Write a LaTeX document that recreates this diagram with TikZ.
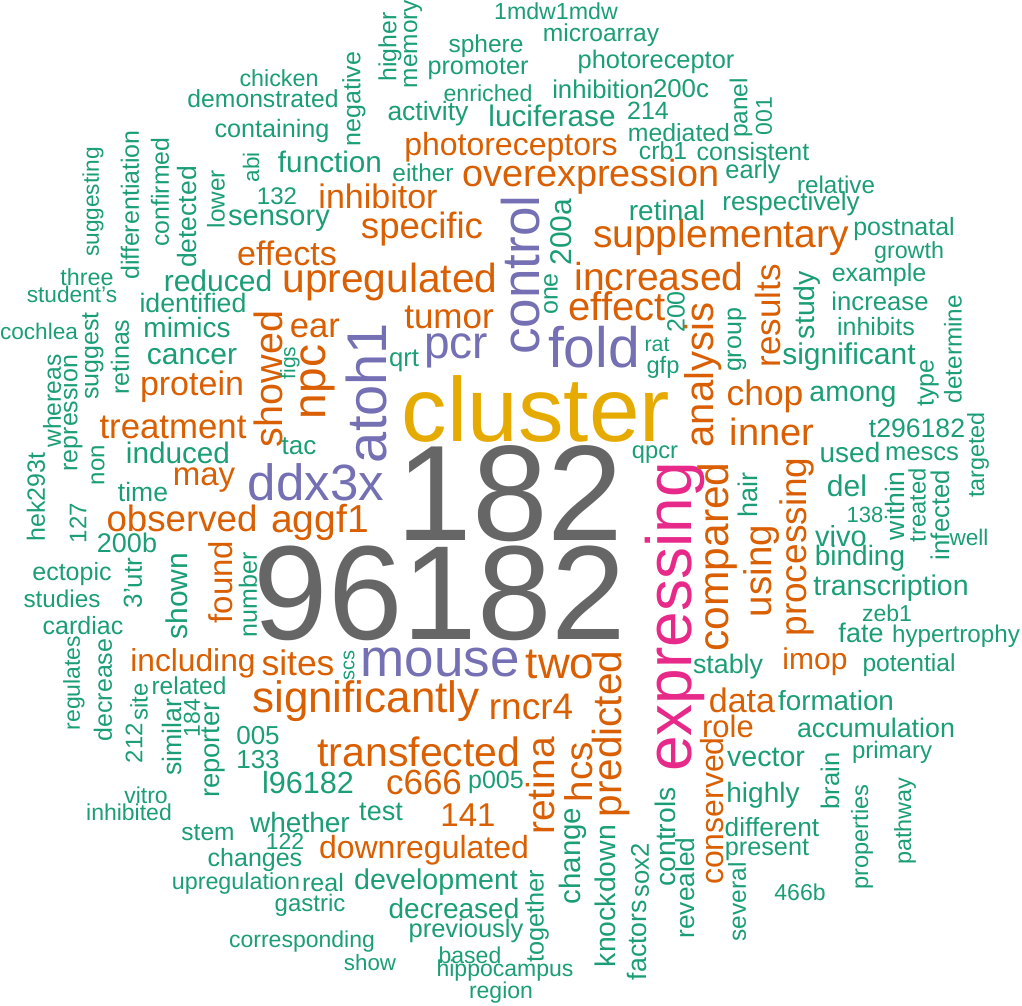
\documentclass[tikz,border=0pt]{standalone}
\usepackage{fontspec}
\setmainfont{Liberation Sans}
\usepackage{tikz}
\definecolor{cus-green}{RGB}{27,158,119}
\definecolor{cus-orange}{RGB}{217,95,2}
\definecolor{cus-purple}{RGB}{117,112,179}
\definecolor{cus-pink}{RGB}{231,41,138}
\definecolor{cus-gold}{RGB}{230,171,2}
\definecolor{cus-gray}{RGB}{102,102,102}
\tikzset{
	w/.style = {inner sep=0pt, anchor=center, font=\fontsize{#1}{#1}\selectfont},
	up/.style = {rotate=90}
}
\begin{document}
\begin{tikzpicture}[x=1pt, y=-1pt]
\useasboundingbox (0,0) rectangle (1022,1005);
% biggest words
\node [cus-gray, w=134] (w96182) at (440,593) {96182};
\node [cus-gray, w=136] (w182) at (510,494) {182};
\node [cus-gold, w=91] (cluster) at (536,409) {cluster};
\node [cus-pink, w=64, up] (expressing) at (675,617) {expressing};
% purple
\node [cus-purple, w=56, up] (atoh1) at (366,393) {atoh1};
\node [cus-purple, w=51] (ddx3x) at (316,482) {ddx3x};
\node [cus-purple, w=46] (pcr) at (456,351) {pcr};
\node [cus-purple, w=53, up] (control) at (521,275) {control};
\node [cus-purple, w=57] (fold) at (594,347) {fold};
\node [cus-purple, w=53] (mouse) at (440,662) {mouse};
% orange
\node [cus-orange, w=34] (effects) at (287,253) {effects};
\node [cus-orange, w=40.7] (upregulated) at (390,282) {upregulated};
\node [cus-orange, w=34] (inhibitor) at (378,196) {inhibitor};
\node [cus-orange, w=32] (photoreceptors) at (511,147) {photoreceptors};
\node [cus-orange, w=37.8] (overexpression) at (591,177) {overexpression};
\node [cus-orange, w=36.6] (specific) at (422,229) {specific};
\node [cus-orange, w=39] (supplementary) at (721,237) {supplementary};
\node [cus-orange, w=39] (increased) at (659,277) {increased};
\node [cus-orange, w=40] (effect) at (617,306) {effect};
\node [cus-orange, w=35] (tumor) at (449,317) {tumor};
\node [cus-orange, w=35, up] (results) at (768,316) {results};
\node [cus-orange, w=40, up] (analysis) at (703,375) {analysis};
\node [cus-orange, w=35.5] (chop) at (765,396) {chop};
\node [cus-orange, w=38] (inner) at (772,432) {inner};
\node [cus-orange, w=42.5, up] (compared) at (718,557) {compared};
\node [cus-orange, w=38.5, up] (using) at (762,571) {using};
\node [cus-orange, w=37, up] (processing) at (797,547) {processing};
\node [cus-orange, w=30] (imop) at (815,662) {imop};
\node [cus-orange, w=34] (data) at (742,700) {data};
\node [cus-orange, w=31] (role) at (728,726) {role};
\node [cus-orange, w=32, up] (conserved) at (712,811) {conserved};
\node [cus-orange, w=40.5, up] (predicted) at (611,734) {predicted};
\node [cus-orange, w=38.6, up] (hcs) at (579,772) {hcs};
\node [cus-orange, w=39, up] (retina) at (541,786) {retina};
\node [cus-orange, w=33] (n141) at (468,815) {141};
\node [cus-orange, w=32] (downregulated) at (424,850) {downregulated};
\node [cus-orange, w=35] (c666) at (424,782) {c666};
\node [cus-orange, w=37] (rncr4) at (531,707) {rncr4};
\node [cus-orange, w=41] (transfected) at (419,752) {transfected};
\node [cus-orange, w=44] (significantly) at (366,701) {significantly};
\node [cus-orange, w=44] (two) at (560,664) {two};
\node [cus-orange, w=35.5] (sites) at (298,663) {sites};
\node [cus-orange, w=31.7] (including) at (193,663) {including};
\node [cus-orange, w=33, up] (found) at (221,582) {found};
\node [cus-orange, w=36.7] (observed) at (182,518) {observed};
\node [cus-orange, w=39] (aggf1) at (320,522) {aggf1};
\node [cus-orange, w=33] (may) at (204,480) {may};
\node [cus-orange, w=34.8] (treatment) at (173,427) {treatment};
\node [cus-orange, w=34] (protein) at (192,387) {protein};
\node [cus-orange, w=39.5, up] (showed) at (268,379) {showed};
\node [cus-orange, w=46, up] (npc) at (318,382) {npc};
\node [cus-orange, w=34.6] (ear) at (315,328) {ear};
% green, top
\node [cus-green, w=23.2] (mdw) at (556,11) {1mdw1mdw};
\node [cus-green, w=24.6] (microarray) at (601,35) {microarray};
\node [cus-green, w=24.8, up] (higher) at (390,47) {higher};
\node [cus-green, w=24.4, up] (memory) at (413,44) {memory};
\node [cus-green, w=24.5] (sphere) at (486,46) {sphere};
\node [cus-green, w=25.2] (promoter) at (478,69) {promoter};
\node [cus-green, w=25.4] (photoreceptor) at (656,62) {photoreceptor};
\node [cus-green, w=25, up] (negative) at (354,99) {negative};
\node [cus-green, w=23.3] (chicken) at (279,78) {chicken};
\node [cus-green, w=24.7] (demonstrated) at (263,99) {demonstrated};
\node [cus-green, w=23.2] (enriched) at (488,93) {enriched};
\node [cus-green, w=25.7] (inhibition) at (603,89) {inhibition};
\node [cus-green, w=25.8] (n200c) at (681,89) {200c};
\node [cus-green, w=26.5] (activity) at (428,114) {activity};
\node [cus-green, w=29.7] (luciferase) at (552,116) {luciferase};
\node [cus-green, w=25] (n214) at (648,111) {214};
\node [cus-green, w=24.5, up] (panel) at (741,108) {panel};
\node [cus-green, w=23, up] (n001) at (764,116) {001};
\node [cus-green, w=24.8] (mediated) at (679,133) {mediated};
\node [cus-green, w=25.2] (containing) at (272,131) {containing};
\node [cus-green, w=24.7] (crb1) at (663,151) {crb1};
\node [cus-green, w=25] (consistent) at (753,152) {consistent};
\node [cus-green, w=29.7] (function) at (330,162) {function};
\node [cus-green, w=24.4] (either) at (423,173) {either};
\node [cus-green, w=25.4] (early) at (753,172) {early};
\node [cus-green, w=22.5, up] (abi) at (251,167) {abi};
\node [cus-green, w=22.7, up] (suggesting) at (93,202) {suggesting};
\node [cus-green, w=25, up] (differentiation) at (130,205) {differentiation};
\node [cus-green, w=24.8, up] (confirmed) at (160,192) {confirmed};
\node [cus-green, w=26.5, up] (detected) at (187,217) {detected};
\node [cus-green, w=24.3, up] (lower) at (216,199) {lower};
\node [cus-green, w=24] (n132) at (277,196) {132};
\node [cus-green, w=24.2] (relative) at (836,185) {relative};
\node [cus-green, w=26] (respectively) at (791,204) {respectively};
\node [cus-green, w=29] (sensory) at (279,221) {sensory};
\node [cus-green, w=28] (retinal) at (667,210) {retinal};
\node [cus-green, w=30, up] (n200a) at (561,232) {200a};
\node [cus-green, w=25] (postnatal) at (904,229) {postnatal};
\node [cus-green, w=23.3] (growth) at (909,252) {growth};
\node [cus-green, w=23.3] (three) at (87,277) {three};
\node [cus-green, w=22.7] (students) at (72,294) {student's};
\node [cus-green, w=30] (reduced) at (218,281) {reduced};
\node [cus-green, w=26.7] (identified) at (193,303) {identified};
\node [cus-green, w=25] (example) at (879,275) {example};
\node [cus-green, w=28.5, up] (study) at (807,305) {study};
\node [cus-green, w=25.7] (increase) at (880,301) {increase};
\node [cus-green, w=25, up] (group) at (737,340) {group};
\node [cus-green, w=25, up] (one) at (551,294) {one};
\node [cus-green, w=25, up] (n200) at (676,312) {200};
\node [cus-green, w=28] (mimics) at (187,327) {mimics};
\node [cus-green, w=22.6] (cochlea) at (39,331) {cochlea};
\node [cus-green, w=25] (inhibits) at (876,327) {inhibits};
% green, middle
\node [cus-green, w=25, up] (suggest) at (93,356) {suggest};
\node [cus-green, w=25, up] (retinas) at (120,357) {retinas};
\node [cus-green, w=24.3, up] (determine) at (953,349) {determine};
\node [cus-green, w=30] (significant) at (849,357) {significant};
\node [cus-green, w=21.4] (rat) at (657,345) {rat};
\node [cus-green, w=23.7] (gfp) at (663,367) {gfp};
\node [cus-green, w=30] (cancer) at (192,357) {cancer};
\node [cus-green, w=25.7] (qrt) at (404,361) {qrt};
\node [cus-green, w=21, up] (figs) at (290,363) {figs};
\node [cus-green, w=28.5] (among) at (853,397) {among};
\node [cus-green, w=25, up] (type) at (928,383) {type};
\node [cus-green, w=24.6, up] (whereas) at (52,401) {whereas};
\node [cus-green, w=25, up] (repression) at (71,413) {repression};
\node [cus-green, w=26] (tac) at (299,446) {tac};
\node [cus-green, w=26.6] (t296182) at (917,428) {t296182};
\node [cus-green, w=29.7] (induced) at (178,453) {induced};
\node [cus-green, w=23.4, up] (targeted) at (978,455) {targeted};
\node [cus-green, w=28] (used) at (850,452) {used};
\node [cus-green, w=25.6] (mescs) at (922,454) {mescs};
\node [cus-green, w=24, up] (non) at (98,465) {non};
\node [cus-green, w=23.7] (qpcr) at (655,455) {qpcr};
\node [cus-green, w=30] (del) at (847,486) {del};
\node [cus-green, w=26.5] (time) at (143,492) {time};
\node [cus-green, w=25, up] (hek293t) at (36,497) {hek293t};
\node [cus-green, w=26.6, up] (within) at (895,506) {within};
\node [cus-green, w=23.8, up] (treated) at (917,505) {treated};
\node [cus-green, w=25.7, up] (infected) at (940,515) {infected};
\node [cus-green, w=22] (n138) at (865,515) {138};
\node [cus-green, w=22.6] (well) at (969,537) {well};
\node [cus-green, w=27, up] (hair) at (748,495) {hair};
\node [cus-green, w=24, up] (n127) at (78,523) {127};
\node [cus-green, w=27] (n200b) at (127,543) {200b};
\node [cus-green, w=29] (vivo) at (841,536) {vivo};
\node [cus-green, w=28] (binding) at (860,558) {binding};
\node [cus-green, w=25] (ectopic) at (72,574) {ectopic};
\node [cus-green, w=26, up] (utr) at (133,583) {3'utr};
\node [cus-green, w=30, up] (shown) at (177,596) {shown};
\node [cus-green, w=25, up] (number) at (248,595) {number};
\node [cus-green, w=24.3] (studies) at (62,599) {studies};
\node [cus-green, w=28.5] (transcription) at (891,588) {transcription};
\node [cus-green, w=25] (cardiac) at (83,626) {cardiac};
\node [cus-green, w=23] (zeb1) at (887,613) {zeb1};
\node [cus-green, w=27] (fate) at (861,633) {fate};
\node [cus-green, w=24.2] (hypertrophy) at (956,636) {hypertrophy};
\node [cus-green, w=26.8] (stably) at (728,667) {stably};
\node [cus-green, w=24.6] (potential) at (909,665) {potential};
\node [cus-green, w=20, up] (scs) at (349,665) {scs};
% green, bottom
\node [cus-green, w=23, up] (regulates) at (74,683) {regulates};
\node [cus-green, w=25, up] (decrease) at (103,690) {decrease};
\node [cus-green, w=24.5] (related) at (189,686) {related};
\node [cus-green, w=27.8] (formation) at (836,701) {formation};
\node [cus-green, w=24, up] (site) at (139,702) {site};
\node [cus-green, w=23, up] (n184) at (192,718) {184};
\node [cus-green, w=26.8] (accumulation) at (876,728) {accumulation};
\node [cus-green, w=24, up] (n212) at (134,743) {212};
\node [cus-green, w=26.7, up] (similar) at (172,737) {similar};
\node [cus-green, w=27.4, up] (reporter) at (213,750) {reporter};
\node [cus-green, w=26] (n005) at (258,736) {005};
\node [cus-green, w=28.6] (vector) at (766,757) {vector};
\node [cus-green, w=24] (primary) at (892,752) {primary};
\node [cus-green, w=26] (n133) at (258,760) {133};
\node [cus-green, w=30.6] (l96182) at (308,783) {l96182};
\node [cus-green, w=25] (p005) at (496,782) {p005};
\node [cus-green, w=25.6, up] (brain) at (830,781) {brain};
\node [cus-green, w=23] (vitro) at (146,795) {vitro};
\node [cus-green, w=27] (test) at (381,812) {test};
\node [cus-green, w=23] (inhibited) at (129,812) {inhibited};
\node [cus-green, w=28] (whether) at (300,822) {whether};
\node [cus-green, w=28] (highly) at (763,795) {highly};
\node [cus-green, w=24.5] (stem) at (208,833) {stem};
\node [cus-green, w=23] (n122) at (285,841) {122};
\node [cus-green, w=26.3] (different) at (772,827) {different};
\node [cus-green, w=25.2] (present) at (767,850) {present};
\node [cus-green, w=25] (changes) at (255,860) {changes};
\node [cus-green, w=23.6, up] (properties) at (862,837) {properties};
\node [cus-green, w=23.4, up] (pathway) at (905,821) {pathway};
\node [cus-green, w=29.5, up] (change) at (573,856) {change};
\node [cus-green, w=28.3, up] (controls) at (665,837) {controls};
\node [cus-green, w=23.3] (upregulation) at (236,883) {upregulation};
\node [cus-green, w=25] (real) at (323,883) {real};
\node [cus-green, w=28.6] (development) at (436,882) {development};
\node [cus-green, w=25.6, up] (sox2) at (640,870) {sox2};
\node [cus-green, w=26.3, up] (revealed) at (685,888) {revealed};
\node [cus-green, w=28.4, up] (knockdown) at (605,896) {knockdown};
\node [cus-green, w=24] (gastric) at (310,905) {gastric};
\node [cus-green, w=28] (decreased) at (454,908) {decreased};
\node [cus-green, w=25.3, up] (together) at (537,916) {together};
\node [cus-green, w=24.5, up] (several) at (737,902) {several};
\node [cus-green, w=23] (n466b) at (800,892) {466b};
\node [cus-green, w=23] (corresponding) at (302,942) {corresponding};
\node [cus-green, w=25.5] (previously) at (466,931) {previously};
\node [cus-green, w=22.3] (show) at (370,963) {show};
\node [cus-green, w=23] (based) at (470,955) {based};
\node [cus-green, w=26.7, up] (factors) at (637,940) {factors};
\node [cus-green, w=23] (hippocampus) at (505,971) {hippocampus};
\node [cus-green, w=23] (region) at (501,993) {region};
\end{tikzpicture}
\end{document}
